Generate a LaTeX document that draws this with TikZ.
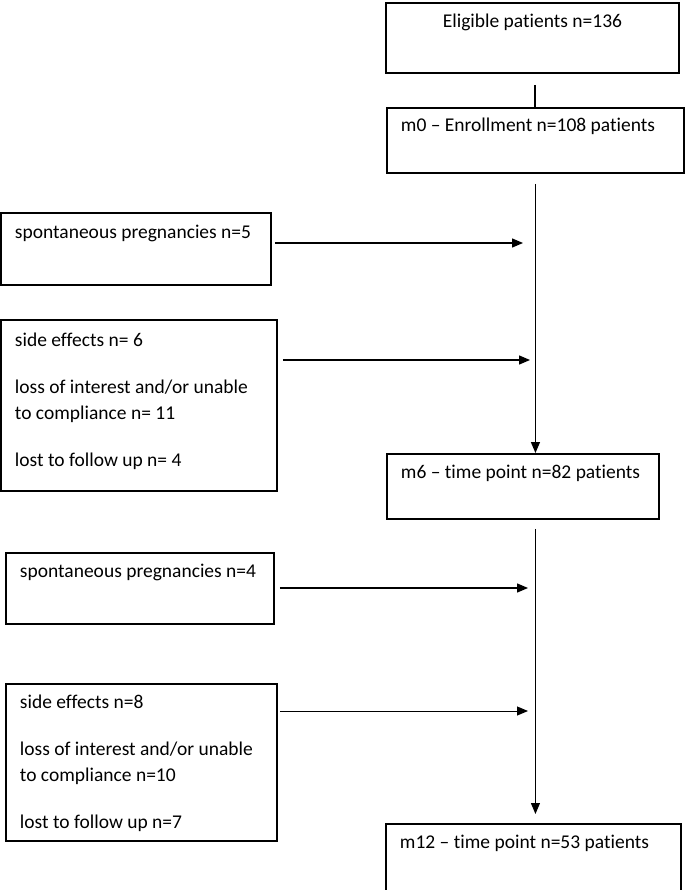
\documentclass[tikz,border=0pt]{standalone}
\usepackage{fontspec}
\setmainfont{Carlito}[Ligatures=NoCommon]
\usetikzlibrary{arrows.meta}

\tikzset{
  box/.style={draw, line width=1.9pt, anchor=north west, inner xsep=14pt,
    inner ysep=0pt, align=flush left, font=\fontsize{19.5}{26.5}\selectfont},
  feed/.style={line width=1.3pt, -{Triangle[length=11pt,width=9pt]}},
  feedthin/.style={feed, line width=1pt}
}

\begin{document}
\begin{tikzpicture}[x=1pt,y=-1pt]
  \useasboundingbox (0,0) rectangle (685,890);
  % main column
  \node[box, align=flush center, text width=265pt, text height=25pt, text depth=45pt] (elig) at (385,2) {Eligible patients n=136};
  \node[box, text width=269pt, text height=24pt, text depth=41pt] (m0) at (386,107) {m0 – Enrollment n=108 patients};
  \node[box, text width=244pt, text height=25pt, text depth=40pt] (m6) at (386,453) {m6 – time point n=82 patients};
  \node[box, text width=267pt, text height=25pt, text depth=42pt] (m12) at (385,823) {m12 – time point n=53 patients};
  % drop-outs, first period
  \node[box, text width=242pt, text height=26pt, text depth=46pt] (spA) at (0,212) {spontaneous pregnancies n=5};
  \node[box, text width=248pt, text height=27pt, text depth=144pt] (sideA) at (0,319)
    {side effects n= 6\\[20pt]loss of interest and/or unable\\to compliance n= 11\\[20pt]lost to follow up n= 4};
  % drop-outs, second period
  \node[box, text width=240pt, text height=25pt, text depth=46pt] (spB) at (5,552) {spontaneous pregnancies n=4};
  \node[box, text width=243pt, text height=25pt, text depth=132pt] (sideB) at (5,683)
    {side effects n=8\\[20pt]loss of interest and/or unable\\to compliance n=10\\[20pt]lost to follow up n=7};

  \coordinate (eligout) at ([yshift=-11pt]elig.south);
  \coordinate (m0out) at ([yshift=-10pt]m0.south);
  \coordinate (m6out) at ([yshift=-9pt]m6.south -| m0.south);
  \coordinate (m12in) at ([yshift=9pt]m12.north -| m0.south);
  \coordinate (jA) at (523,243);
  \coordinate (jB) at (530,360);
  \coordinate (jC) at (528,588);
  \coordinate (jD) at (528,711);

  \draw[line width=2pt] (eligout -| m0.north) -- (m0.north);
  \draw[feed] (m0out) -- (m0.south |- m6.north);
  \draw[feedthin] (m6out) -- (m12in);
  \draw[feed] ([xshift=3pt]spA.east |- jA) -- (jA);
  \draw[feed] ([xshift=5pt]sideA.east |- jB) -- (jB);
  \draw[feed] ([xshift=5pt]spB.east |- jC) -- (jC);
  \draw[feedthin] ([xshift=2pt]sideB.east |- jD) -- (jD);
\end{tikzpicture}
\end{document}
